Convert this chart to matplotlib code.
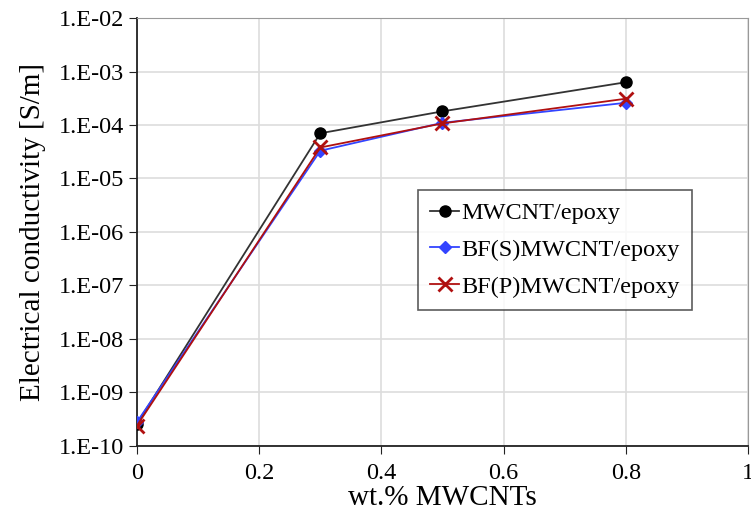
import math
import matplotlib
matplotlib.use('Agg')
import matplotlib.pyplot as plt
import matplotlib.ticker as ticker

plt.rcParams['font.family'] = ['Liberation Serif', 'DejaVu Serif']

# wt.% MWCNTs
loading = [0, 0.3, 0.5, 0.8]
# electrical conductivity [S/m]
mwcnt = [2.6e-10, 7.0e-5, 1.8e-4, 6.3e-4]
bf_s = [2.8e-10, 3.3e-5, 1.1e-4, 2.6e-4]
bf_p = [2.4e-10, 3.8e-5, 1.07e-4, 3.1e-4]


def sci_label(v, pos):
    return '1.E-{0:02d}'.format(-int(round(math.log10(v))))


fig = plt.figure(figsize=(7.51, 5.24), dpi=100)
ax = fig.add_axes([0.1824, 0.149, 0.8136, 0.8166])

ax.plot(loading, mwcnt, color='#333333', lw=1.3, marker='o', ms=8,
        mfc='black', mec='black', label='MWCNT/epoxy', zorder=3)
ax.plot(loading, bf_s, color='#3344ff', lw=1.3, marker='D', ms=6,
        mfc='#3344ff', mec='#3344ff', label='BF(S)MWCNT/epoxy', zorder=4)
ax.plot(loading, bf_p, color='#b01010', lw=1.3, marker='x', ms=10, mew=2,
        mec='#b01010', label='BF(P)MWCNT/epoxy', zorder=5)

ax.set_yscale('log')
ax.set_ylim(1e-10, 1e-2)
ax.set_xlim(0, 1)
ax.set_xticks([0, 0.2, 0.4, 0.6, 0.8, 1])
ax.set_xticklabels(['0', '0.2', '0.4', '0.6', '0.8', '1'])
ax.yaxis.set_major_locator(ticker.LogLocator(base=10, numticks=20))
ax.yaxis.set_minor_locator(ticker.NullLocator())
ax.yaxis.set_major_formatter(ticker.FuncFormatter(sci_label))

ax.grid(True, color='#dddddd', lw=1.2)
ax.set_axisbelow(True)
for s in ['top', 'right']:
    ax.spines[s].set_color('#999999')
for s in ['left', 'bottom']:
    ax.spines[s].set_color('#222222')
    ax.spines[s].set_linewidth(1.3)

ax.tick_params(axis='both', labelsize=17.5, direction='out', length=6, color='#222222')
ax.tick_params(axis='x', pad=6)
ax.set_xlabel('wt.% MWCNTs', fontsize=21, labelpad=1)
ax.set_ylabel('Electrical conductivity [S/m]', fontsize=21, labelpad=9)

leg = ax.legend(loc='upper left', bbox_to_anchor=(0.44, 0.626), fontsize=17.5,
                frameon=True, fancybox=False, edgecolor='#333333',
                handlelength=1.2, handletextpad=0.1, borderpad=0.5,
                labelspacing=0.6)
leg.get_frame().set_linewidth(1.2)

plt.savefig('out.png', dpi=100)
